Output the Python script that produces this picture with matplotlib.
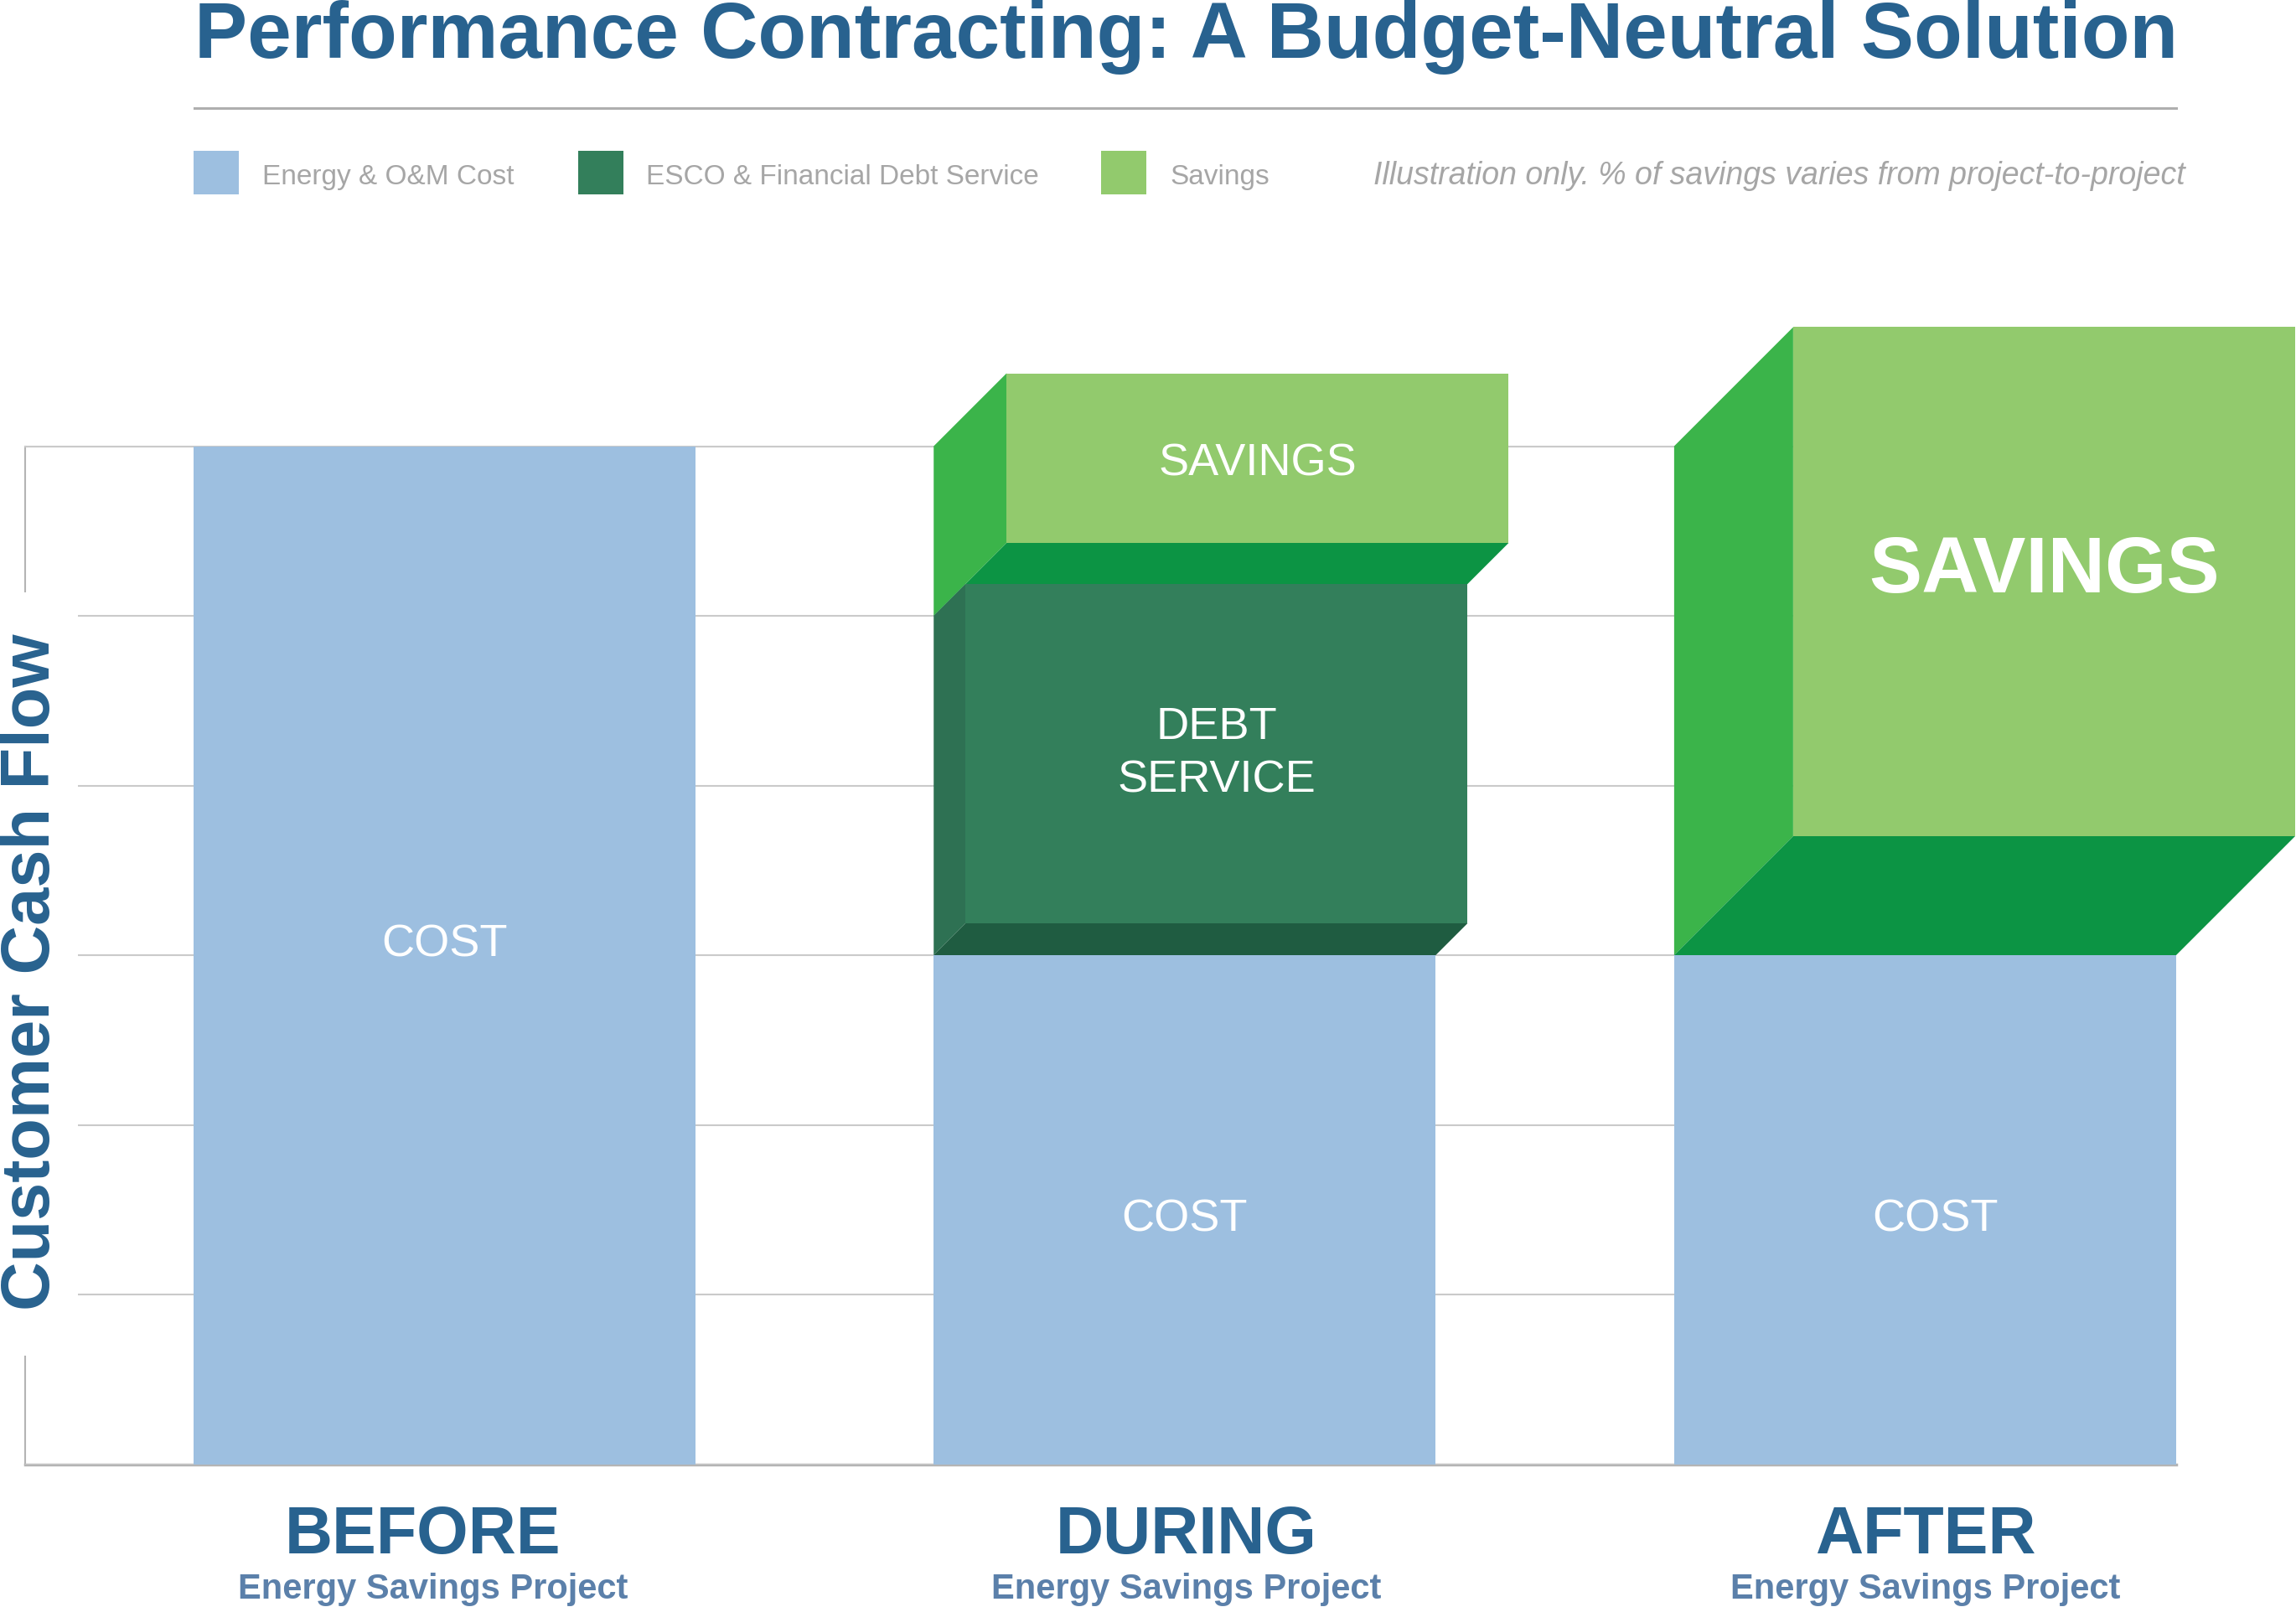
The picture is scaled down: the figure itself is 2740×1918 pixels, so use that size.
import numpy as np
import matplotlib
matplotlib.use('Agg')
import matplotlib.pyplot as plt
from matplotlib.patches import Polygon, Rectangle
from matplotlib.transforms import blended_transform_factory

plt.rcParams['font.family'] = ['Liberation Sans', 'DejaVu Sans']

categories = ['BEFORE', 'DURING', 'AFTER']
subtitles = ['Energy Savings Project', 'Energy Savings Project', 'Energy Savings Project']
cost = [6, 3, 3]
debt = [0, 2, 0]
savings = [0, 1, 3]
legend_labels = ['Energy & O&M Cost', 'ESCO & Financial Debt Service', 'Savings']
note = 'Illustration only. % of savings varies from project-to-project'

# extrusion depth of the 3d blocks, in pixels
debt_depth = [0, 38, 0]
savings_depth = [0, 87, 142]
# small nudges of the labels (pixels), the original isn't perfectly centred
cat_shift = [-26, 2, 0]
sub_shift = [-13, 2, 0]
cost_shift = [(0, 12), (0, -12), (12, -12)]

DARKBLUE = '#28628F'
SUBBLUE = '#5B80AA'
COST_C = '#9DBFE0'
DEBT_C = ('#337F5B', '#2E7153', '#1F5C41')      # front, side, under
SAV_C = ('#92CA6D', '#3BB44A', '#0C9444')
GREY_TXT = '#A6A6A6'
GRID_C = '#CACACA'

W, H = 2740, 1918
fig = plt.figure(figsize=(W / 100, H / 100), dpi=100)
ax_l, ax_b, ax_w, ax_h = 30, 170.5, 2567, 1215
ax = fig.add_axes([ax_l / W, ax_b / H, ax_w / W, ax_h / H])

x = np.arange(len(categories))
bw = 0.678
xlim = (-0.566, 2.339)
ylim = (0, 6)
ax.set_xlim(*xlim)
ax.set_ylim(*ylim)

px_x = (xlim[1] - xlim[0]) / ax_w
px_y = (ylim[1] - ylim[0]) / ax_h

# grid + spines
ax.set_axisbelow(True)
ax.set_yticks(np.arange(0, 7))
ax.yaxis.grid(True, color=GRID_C, lw=1.5)
ax.tick_params(left=False, bottom=False, labelleft=False, labelbottom=False)
ax.spines['right'].set_visible(False)
ax.spines['top'].set_color(GRID_C)
ax.spines['top'].set_linewidth(1.5)
ax.spines['left'].set_color('#B4B4B4')
ax.spines['left'].set_linewidth(1.5)
ax.spines['bottom'].set_color('#B4B4B4')
ax.spines['bottom'].set_linewidth(2.5)
for s in ax.spines.values():
    s.set_zorder(0.5)

ax.bar(x, cost, width=bw, color=COST_C, zorder=2)


def block(xc, y0, h, depth, cols, z):
    dx = depth * px_x
    dy = depth * px_y
    x0, x1, y1 = xc - bw / 2, xc + bw / 2, y0 + h
    front, side, under = cols
    ax.add_patch(Polygon([(x0, y1), (x0 + dx, y1 + dy), (x0 + dx, y0 + dy), (x0, y0)],
                         fc=side, lw=0, clip_on=False, zorder=z))
    ax.add_patch(Polygon([(x0, y0), (x1, y0), (x1 + dx, y0 + dy), (x0 + dx, y0 + dy)],
                         fc=under, lw=0, clip_on=False, zorder=z))
    ax.add_patch(Rectangle((x0 + dx, y0 + dy), bw, h, fc=front, lw=0, clip_on=False, zorder=z))
    return xc + dx, y0 + dy + h / 2


for i in range(len(categories)):
    sx, sy = cost_shift[i]
    ax.text(x[i] + sx * px_x, cost[i] / 2 + sy * px_y, 'COST', color='white', fontsize=39,
            ha='center', va='center', zorder=6)
    if savings[i] > 0:
        cx, cy = block(x[i], cost[i] + debt[i], savings[i], savings_depth[i], SAV_C, 3)
        big = savings[i] >= 3
        ax.text(cx, cy + (0.06 if big else -0.035), 'SAVINGS', color='white',
                fontsize=68 if big else 39, fontweight='bold' if big else 'normal',
                ha='center', va='center', zorder=6)
    if debt[i] > 0:
        cx, cy = block(x[i], cost[i], debt[i], debt_depth[i], DEBT_C, 4)
        ax.text(cx, cy, 'DEBT\nSERVICE', color='white', fontsize=39,
                ha='center', va='center', linespacing=1.35, zorder=6)

# category labels under the axis
tr = blended_transform_factory(ax.transData, fig.transFigure)
for i in range(len(categories)):
    ax.text(x[i] + cat_shift[i] * px_x, 1 - 1854 / H, categories[i], transform=tr,
            ha='center', va='baseline', fontsize=57, fontweight='bold', color=DARKBLUE)
    ax.text(x[i] + sub_shift[i] * px_x, 1 - 1908 / H, subtitles[i], transform=tr,
            ha='center', va='baseline', fontsize=30, fontweight='bold', color=SUBBLUE)

# white cover behind the y label
fig.patches.append(Rectangle((0, 1 - 1618 / H), 93 / W, (1618 - 707) / H, fc='white', lw=0,
                             transform=fig.transFigure, zorder=1))
fig.text(0.0, 1 - 1160 / H, 'Customer Cash Flow', rotation=90, ha='left', va='center',
         fontsize=58.5, fontweight='bold', color=DARKBLUE, zorder=5)

# title and rule
fig.text(232 / W, 1 - 69 / H, 'Performance Contracting: A Budget-Neutral Solution',
         ha='left', va='baseline', fontsize=68, fontweight='bold', color=DARKBLUE)
fig.add_artist(plt.Line2D([232 / W, 2597 / W], [1 - 129 / H, 1 - 129 / H],
                          transform=fig.transFigure, color='#AFAFAF', lw=2.2))

# legend
leg_sq_x = [231, 690, 1314]
leg_txt_x = [313, 771, 1396]
leg_cols = [COST_C, DEBT_C[0], SAV_C[0]]
for lab, sx, tx, c in zip(legend_labels, leg_sq_x, leg_txt_x, leg_cols):
    fig.patches.append(Rectangle((sx / W, 1 - 232 / H), 54 / W, 52 / H, fc=c, lw=0,
                                 transform=fig.transFigure))
    fig.text(tx / W, 1 - 220 / H, lab, ha='left', va='baseline', fontsize=24, color=GREY_TXT)
fig.text(2608 / W, 1 - 220 / H, note, ha='right', va='baseline', fontsize=27,
         style='italic', color=GREY_TXT)

fig.savefig('out.png', dpi=100)
